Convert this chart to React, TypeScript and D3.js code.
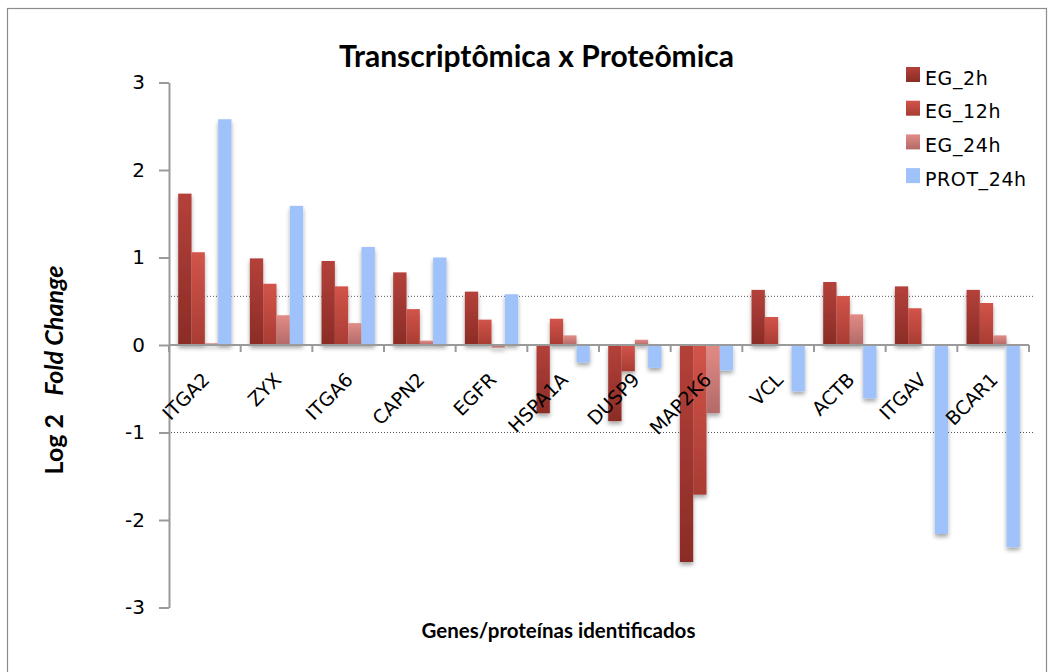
import React, { useEffect, useRef } from "react";
import * as d3 from "d3";

const genes = ["ITGA2", "ZYX", "ITGA6", "CAPN2", "EGFR", "HSPA1A", "DUSP9", "MAP2K6", "VCL", "ACTB", "ITGAV", "BCAR1"];
const seriesNames = ["EG_2h", "EG_12h", "EG_24h", "PROT_24h"];
const eg2h = [1.73, 0.99, 0.96, 0.83, 0.61, -0.78, -0.87, -2.48, 0.63, 0.72, 0.67, 0.63];
const eg12h = [1.06, 0.7, 0.67, 0.41, 0.29, 0.3, -0.3, -1.71, 0.32, 0.56, 0.42, 0.48];
const eg24h = [0.02, 0.34, 0.25, 0.05, -0.03, 0.11, 0.06, -0.78, 0, 0.35, 0, 0.11];
const prot24h = [2.58, 1.59, 1.12, 1.0, 0.58, -0.2, -0.26, -0.29, -0.53, -0.61, -2.16, -2.31];
const yTicks = [-3, -2, -1, 0, 1, 2, 3];
const refLines = [0.556, -1];

const gradients = [
  ["#b4413a", "#8a2c26"],
  ["#d2544a", "#a83c33"],
  ["#e28b86", "#b26a68"],
  ["#9fc2fb", "#9fc2fb"],
];

const W = 1054;
const H = 672;
const margin = { left: 169, right: 25, top: 82.5, bottom: 64.5 };

export default function App() {
  const svgRef = useRef<SVGSVGElement>(null);

  useEffect(() => {
    document.body.style.margin = "0";
    const svg = d3.select(svgRef.current).attr("width", W).attr("height", H);
    svg.selectAll("*").remove();

    const defs = svg.append("defs");
    gradients.forEach((g, i) => {
      const lg = defs.append("linearGradient").attr("id", "grad" + i).attr("x1", 0).attr("x2", 0).attr("y1", 0).attr("y2", 1);
      lg.append("stop").attr("offset", "0%").attr("stop-color", g[0]);
      lg.append("stop").attr("offset", "100%").attr("stop-color", g[1]);
    });
    const f = defs.append("filter").attr("id", "shadow").attr("x", "-30%").attr("y", "-10%").attr("width", "160%").attr("height", "130%");
    f.append("feDropShadow").attr("dx", 0).attr("dy", 3).attr("stdDeviation", 2).attr("flood-color", "#000").attr("flood-opacity", 0.35);

    svg.append("rect").attr("width", W).attr("height", H).attr("fill", "#fff");
    svg.append("rect").attr("x", 7.5).attr("y", 8.5).attr("width", 1039).attr("height", 680)
      .attr("fill", "none").attr("stroke", "#8c8c8c").attr("stroke-width", 1.2);

    const x = d3.scaleBand().domain(genes).range([margin.left, W - margin.right]).padding(0);
    const xs = d3.scaleBand().domain(seriesNames).range([0, x.bandwidth()]).paddingInner(0).paddingOuter(0.69);
    const y = d3.scaleLinear().domain([-3, 3]).range([H - margin.bottom, margin.top]);

    // dotted reference lines
    svg.append("g").selectAll("line").data(refLines).join("line")
      .attr("x1", margin.left + 2).attr("x2", W - margin.right + 5)
      .attr("y1", (d) => y(d)).attr("y2", (d) => y(d))
      .attr("stroke", "#555").attr("stroke-width", 1).attr("stroke-dasharray", "1,2");

    const series = [eg2h, eg12h, eg24h, prot24h];
    const barsG = svg.append("g").attr("filter", "url(#shadow)");
    series.forEach((vals, si) => {
      barsG.append("g").selectAll("rect").data(vals).join("rect")
        .attr("x", (_, i) => (x(genes[i]) as number) + (xs(seriesNames[si]) as number))
        .attr("width", xs.bandwidth())
        .attr("y", (d) => y(Math.max(0, d)))
        .attr("height", (d) => Math.abs(y(d) - y(0)))
        .attr("fill", `url(#grad${si})`);
    });

    // y axis
    const yAxis = svg.append("g").attr("transform", `translate(${margin.left},0)`)
      .call(d3.axisLeft(y).tickValues(yTicks).tickSize(10).tickSizeOuter(0).tickPadding(14).tickFormat((d) => String(d)));
    yAxis.select(".domain").attr("stroke", "#9a9a9a").attr("stroke-width", 2);
    yAxis.selectAll(".tick line").attr("stroke", "#9a9a9a").attr("stroke-width", 2);
    yAxis.selectAll(".tick text").attr("font-family", "DejaVu Sans").attr("font-size", 20).attr("fill", "#000");

    // x axis at zero with boundary ticks
    const x0 = y(0);
    svg.append("line").attr("x1", margin.left).attr("x2", W - margin.right).attr("y1", x0).attr("y2", x0)
      .attr("stroke", "#9a9a9a").attr("stroke-width", 2);
    const bounds = genes.map((g) => x(g) as number).concat([W - margin.right]);
    svg.append("g").selectAll("line").data(bounds).join("line")
      .attr("x1", (d) => d).attr("x2", (d) => d).attr("y1", x0).attr("y2", x0 + 7)
      .attr("stroke", "#9a9a9a").attr("stroke-width", 2);

    svg.append("g").selectAll("text").data(genes).join("text")
      .attr("transform", (d) => `translate(${(x(d) as number) + x.bandwidth() / 2 + 6},${x0 + 36}) rotate(-45)`)
      .attr("text-anchor", "end")
      .attr("font-family", "DejaVu Sans").attr("font-size", 19).attr("fill", "#000")
      .text((d) => d);

    // titles
    svg.append("text").attr("x", 536.5).attr("y", 67).attr("text-anchor", "middle")
      .attr("font-family", "Lato").attr("font-weight", "bold").attr("font-size", 30).text("Transcriptômica x Proteômica");

    svg.append("text").attr("x", 558.5).attr("y", 638).attr("text-anchor", "middle")
      .attr("font-family", "Lato").attr("font-weight", "bold").attr("font-size", 20.5).text("Genes/proteínas identificados");

    const yt = svg.append("text").attr("transform", "translate(63,370) rotate(-90)").attr("text-anchor", "middle")
      .attr("font-family", "Lato").attr("font-weight", "bold").attr("font-size", 25);
    yt.append("tspan").text("Log 2\u00a0\u00a0\u00a0");
    yt.append("tspan").attr("font-style", "italic").text("Fold Change");

    // legend
    const lg = svg.append("g").attr("transform", "translate(906,67)");
    const rows = lg.selectAll("g").data(seriesNames).join("g").attr("transform", (_, i) => `translate(0,${i * 33.7})`);
    rows.append("rect").attr("width", 14).attr("height", 15).attr("fill", (_, i) => `url(#grad${i})`);
    rows.append("text").attr("x", 19).attr("y", 17.5).attr("font-family", "DejaVu Sans").attr("font-size", 19)
      .attr("letter-spacing", 0.6).attr("fill", "#000").text((d) => d);
  }, []);

  return <svg ref={svgRef} style={{ display: "block" }}></svg>;
}
